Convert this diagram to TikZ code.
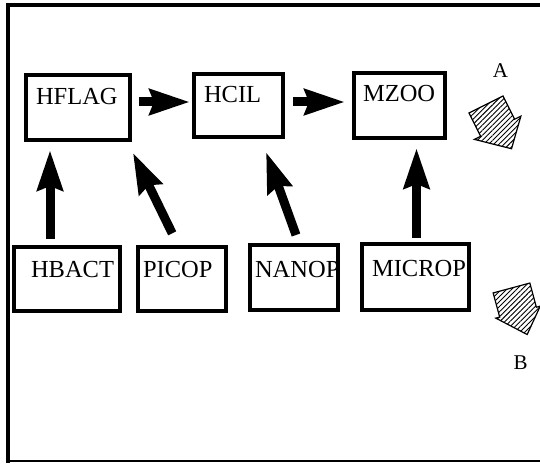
\documentclass[tikz,border=0pt]{standalone}
\usepackage{fontspec}
\setmainfont{Liberation Serif}
\usetikzlibrary{arrows.meta,patterns.meta}

\tikzset{
  compartment/.style={draw, line width=4pt, outer sep=2pt, anchor=north west,
    inner ysep=0pt, align=left, font=\fontsize{24.5}{29}\selectfont},
  flow/.style={line width=9pt, -{Stealth[length=40pt,width=25pt,inset=4pt]}},
  hatcharrow/.style={draw, line width=1.2pt, line join=miter,
    pattern={Lines[angle=45,distance=3.6pt,line width=0.9pt]}},
  letter/.style={font=\fontsize{21}{25}\selectfont, inner sep=0pt}
}

\begin{document}
\begin{tikzpicture}[x=1pt,y=-1pt]
  \useasboundingbox (0,0) rectangle (540,465);

  % outer frame
  \draw[line width=4pt] (540,5) -- (8,5) -- (8,463);
  \draw[line width=1.5pt] (8,461) -- (540,461);

  % upper row of compartments
  \node[compartment, inner xsep=10pt, text width=84pt, text height=30pt, text depth=35pt]
    (hflag) at (24,73) {HFLAG};
  \node[compartment, inner xsep=10pt, text width=69pt, text height=29pt, text depth=34pt]
    (hcil) at (192,72) {HCIL};
  \node[compartment, inner xsep=9pt, text width=73pt, text height=29pt, text depth=36pt]
    (mzoo) at (352,71) {MZOO};

  % lower row of compartments
  \node[compartment, inner xsep=17pt, text width=72pt, text height=30pt, text depth=34pt]
    (hbact) at (12,245) {HBACT};
  \node[compartment, inner xsep=5pt, text width=78pt, text height=30pt, text depth=34pt]
    (picop) at (136,245) {PICOP};
  \node[compartment, inner xsep=5pt, text width=78pt, text height=32pt, text depth=33pt]
    (nanop) at (248,243) {NANOP};
  \node[compartment, inner xsep=10pt, text width=87pt, text height=32pt, text depth=34pt]
    (microp) at (360,242) {MICROP};

  % flows along the upper row
  \draw[flow, shorten <=7pt, shorten >=2pt]
    ([yshift=5.5pt]hflag.east) -- ([yshift=3.5pt]hcil.west);
  \draw[flow, shorten <=8pt, shorten >=7pt]
    ([yshift=3.5pt]hcil.east) -- ([yshift=3.5pt]mzoo.west);

  % flows from the lower row upwards
  \draw[flow, shorten <=6pt, shorten >=8pt]
    ([xshift=-17pt]hbact.north) -- ([xshift=-28pt]hflag.south);
  \draw[flow, shorten <=13pt, shorten >=12pt]
    ([xshift=-4.1pt]picop.north) -- ([xshift=49.6pt]hflag.south);
  \draw[flow, shorten <=8.5pt, shorten >=13.8pt]
    ([xshift=4.9pt]nanop.north) -- ([xshift=22.8pt]hcil.south);
  \draw[flow, shorten <=4pt, shorten >=8pt]
    ([xshift=1pt]microp.north) -- ([xshift=17pt]mzoo.south);

  % hatched export arrows
  \begin{scope}[shift={(486,104.5)}, rotate=-63.4]
    \path[hatcharrow] (0,-19) -- (26,-19) -- (26,-26) -- (51,-3) -- (26,26)
      -- (26,19) -- (0,19) -- cycle;
  \end{scope}
  \begin{scope}[shift={(511.5,288)}, rotate=-74.9]
    \path[hatcharrow] (0,-19) -- (25,-19) -- (25,-23) -- (49,-3) -- (25,23)
      -- (25,19) -- (0,19) -- cycle;
  \end{scope}

  \node[letter] (la) at (500.5,71) {A};
  \node[letter] (lb) at (520.5,362.5) {B};
\end{tikzpicture}
\end{document}
